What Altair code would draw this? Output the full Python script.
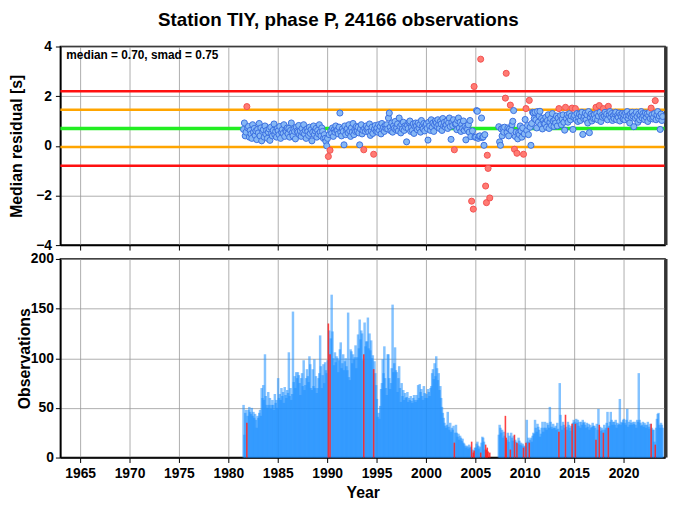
import altair as alt
import pandas as pd

TITLE = "Station TIY, phase P, 24166 observations"
MEDIAN = 0.70
SMAD = 0.75
X_TICKS = [1965, 1970, 1975, 1980, 1985, 1990, 1995, 2000, 2005, 2010, 2015, 2020]
X_DOMAIN = [1963.0, 2024.2]

# monthly median residuals [s] (Jan..Dec), None = no data
res_1981 = [None, None, None, None, None, None, 0.66, 0.92, 0.40, 0.55, 1.58, 0.72]
res_1982 = [0.78, 0.35, 0.62, 0.48, 0.30, 0.85, 0.55, 0.70, 0.42, 0.60, 0.25, 0.66]
res_1983 = [0.52, 0.90, 0.40, 0.72, 0.20, 0.58, 0.65, 0.35, 0.80, 0.48, 0.62, 0.30]
res_1984 = [0.55, 0.68, 0.22, 0.75, 0.50, 0.40, 0.62, 0.88, 0.45, 0.58, 0.35, 0.70]
res_1985 = [0.60, 0.45, 0.78, 0.30, 0.55, 0.65, 0.50, 0.85, 0.38, 0.62, 0.58, 0.72]
res_1986 = [0.48, 0.70, 0.35, 0.62, 0.92, 0.52, 0.40, 0.66, 0.58, 0.28, 0.75, 0.60]
res_1987 = [0.55, 0.82, 0.45, 0.60, 0.38, 0.70, 0.52, 0.85, 0.48, 0.62, 0.30, 0.68]
res_1988 = [0.58, 0.42, 0.75, 0.50, 0.65, 0.20, 0.55, 0.80, 0.45, 0.60, 0.70, 0.35]
res_1989 = [0.62, 0.48, 0.85, 0.55, 0.40, 0.72, 0.58, 0.30, 0.45, 0.30, 0.18, 0.00]
res_1990 = [0.30, -0.43, 0.45, -0.18, 0.60, 0.50, 0.72, 0.38, 0.65, 0.55, 0.80, 0.62]
res_1991 = [0.62, 0.48, 0.75, 1.32, 0.55, 0.40, 0.68, 0.58, 0.04, 0.80, 0.45, 0.65]
res_1992 = [0.70, 0.52, 0.85, 0.60, 0.38, 0.72, 0.55, 0.90, 0.45, 0.65, 0.58, 0.78]
res_1993 = [0.60, 0.75, 0.52, 0.04, 0.68, 0.85, 0.48, 0.62, -0.16, 0.70, 0.58, 0.80]
res_1994 = [0.65, 0.72, 0.55, 0.88, 0.42, 0.60, 0.75, 0.50, -0.34, 0.68, 0.82, 0.58]
res_1995 = [0.72, 0.55, 0.85, 0.62, 0.78, 0.48, 0.90, 0.66, 0.75, 0.58, 0.82, 0.70]
res_1996 = [0.85, 0.68, 1.12, 1.32, 0.75, 0.60, 0.92, 0.55, 0.80, 0.70, 0.98, 0.65]
res_1997 = [0.72, 0.88, 0.60, 1.12, 0.78, 0.52, 0.85, 0.68, 0.95, 0.62, 0.80, 0.74]
res_1998 = [0.16, 0.82, 0.70, 0.95, 1.00, 0.58, 0.75, 0.62, 0.88, 0.50, 0.78, 0.92]
res_1999 = [0.80, 0.65, 0.92, 0.72, 0.85, 0.55, 1.02, 0.78, 0.68, 0.90, 0.60, 0.82]
res_2000 = [0.88, 0.70, 0.23, 0.95, 0.80, 0.62, 1.05, 0.75, 0.92, 0.58, 0.85, 1.00]
res_2001 = [0.92, 0.78, 1.05, 0.85, 0.70, 0.98, 0.88, 0.62, 1.10, 0.80, 0.95, 0.75]
res_2002 = [0.85, 1.00, 0.70, 0.92, 1.12, 0.78, 0.26, 0.95, 0.82, 1.05, -0.16, 0.88]
res_2003 = [0.90, 0.65, 1.02, 1.12, 0.72, 0.95, 0.58, 0.85, 0.70, 1.00, 0.62, 0.78]
res_2004 = [0.24, 0.72, 0.66, 0.85, 0.55, 1.02, 0.37, -2.23, 0.60, -2.55, 2.39, 0.35]
res_2005 = [0.35, 1.42, 1.39, 0.30, 0.38, 0.40, 3.49, 1.12, 0.33, 0.36, 0.02, 0.45]
res_2006 = [-1.62, -2.29, -0.38, -0.91, None, -2.10, None, None, None, None, None, None]
res_2007 = [None, None, None, None, 0.77, 0.16, 0.02, 0.68, 0.40, 0.72, 0.55, 0.75]
res_2008 = [1.92, 2.92, 0.55, 0.72, 0.40, 0.68, 1.64, 0.62, 0.85, 0.99, 1.42, -0.14]
res_2009 = [0.38, 0.55, -0.30, 0.28, 0.52, 0.45, 0.80, 0.60, 0.35, 0.72, -0.34, 0.48]
res_2010 = [1.06, 1.50, 0.62, 0.82, 0.45, 1.83, 0.75, 0.02, 0.90, 1.35, 1.32, 1.10]
res_2011 = [1.35, 1.05, 0.72, 1.38, 0.95, 1.20, 1.39, 0.85, 1.10, 0.68, 1.02, 0.90]
res_2012 = [0.88, 1.15, 0.75, 1.02, 1.25, 0.70, 0.95, 1.10, 0.82, 1.30, 1.00, 0.78]
res_2013 = [1.05, 0.92, 1.20, 0.80, 1.12, 1.50, 0.98, 1.22, 0.85, 1.08, 1.25, 0.95]
res_2014 = [0.63, 1.55, 1.10, 1.25, 0.95, 1.18, 1.30, 1.05, 1.20, 1.52, 0.66, 1.15]
res_2015 = [1.22, 1.50, 1.05, 1.30, 0.98, 1.15, 1.28, 1.02, 1.20, 1.35, 0.46, 1.10]
res_2016 = [1.18, 1.32, 1.05, 1.25, 0.92, 1.38, 0.53, 1.15, 1.28, 1.00, 1.22, 1.10]
res_2017 = [1.25, 1.10, 1.55, 1.30, 1.05, 1.20, 1.62, 1.35, 0.98, 1.22, 1.15, 1.50]
res_2018 = [1.20, 1.35, 1.12, 1.28, 1.05, 1.59, 1.25, 1.38, 1.15, 1.30, 1.02, 1.22]
res_2019 = [1.10, 1.28, 1.35, 1.05, 1.22, 1.15, 1.32, 1.00, 1.25, 1.18, 1.30, 1.08]
res_2020 = [1.25, 1.05, 1.32, 1.18, 1.38, 1.10, 1.22, 0.92, 1.28, 1.15, 1.35, 1.20]
res_2021 = [0.77, 1.25, 1.10, 1.35, 1.18, 0.95, 1.28, 1.05, 1.22, 1.38, 1.12, 1.30]
res_2022 = [1.20, 1.05, 1.32, 1.15, 1.28, 0.98, 1.22, 1.35, 1.10, 1.52, 1.25, 1.08]
res_2023 = [1.15, 1.30, 1.82, 1.05, 1.25, 1.38, 1.10, 1.20, 0.66, 1.28, 1.02, 1.18]

# monthly number of observations (Jan..Dec), None = no data
cnt_1981 = [None, None, None, None, None, None, 53, 23, 45, 48, 35, 42]
cnt_1982 = [48, 51, 46, 44, 50, 42, 46, 40, 44, 38, 30, 42]
cnt_1983 = [40, 45, 48, 42, 70, 60, 73, 58, 104, 62, 53, 50]
cnt_1984 = [66, 53, 60, 49, 53, 58, 53, 48, 64, 55, 58, 50]
cnt_1985 = [80, 60, 64, 58, 70, 62, 66, 55, 71, 63, 60, 68]
cnt_1986 = [65, 106, 62, 70, 58, 64, 147, 76, 82, 70, 86, 80]
cnt_1987 = [86, 83, 75, 63, 80, 85, 72, 98, 68, 73, 80, 89]
cnt_1988 = [82, 76, 102, 94, 70, 68, 89, 72, 99, 70, 82, 65]
cnt_1989 = [70, 80, 85, 123, 92, 70, 83, 94, 75, 96, 88, 85]
cnt_1990 = [98, 135, 128, 104, 120, 164, 127, 100, 93, 106, 96, 102]
cnt_1991 = [100, 86, 98, 109, 116, 90, 95, 104, 88, 97, 100, 92]
cnt_1992 = [88, 146, 81, 78, 109, 107, 95, 104, 99, 101, 113, 90]
cnt_1993 = [101, 124, 110, 139, 119, 128, 125, 98, 104, 136, 112, 117]
cnt_1994 = [117, 141, 110, 125, 108, 118, 100, 103, 89, 97, 85, 73]
cnt_1995 = [59, 41, 45, 39, 52, 69, 75, 99, 85, 112, 80, 70]
cnt_1996 = [63, 104, 104, 80, 69, 75, 90, 154, 86, 95, 111, 88]
cnt_1997 = [86, 66, 80, 92, 70, 56, 75, 62, 68, 58, 65, 60]
cnt_1998 = [61, 66, 56, 60, 58, 62, 57, 55, 60, 63, 58, 56]
cnt_1999 = [63, 58, 73, 60, 74, 66, 69, 62, 58, 72, 65, 60]
cnt_2000 = [64, 60, 69, 66, 62, 70, 72, 85, 89, 79, 95, 82]
cnt_2001 = [102, 90, 78, 85, 68, 72, 60, 51, 45, 40, 35, 32]
cnt_2002 = [30, 33, 46, 31, 28, 35, 26, 30, 28, 32, 15, 25]
cnt_2003 = [33, 25, 21, 24, 18, 22, 20, 17, 19, 15, 14, 12]
cnt_2004 = [10, 12, 11, 9, 13, 10, 11, 16, 8, 5, 7, 10]
cnt_2005 = [10, 14, 16, 12, 9, 11, 5, 15, 21, 20, 16, 8]
cnt_2006 = [13, 8, 10, 6, None, 5, None, None, None, None, None, None]
cnt_2007 = [None, None, None, None, 23, 33, 30, 25, 28, 20, 26, 22]
cnt_2008 = [42, 20, 18, 25, 16, 22, 8, 25, 20, 17, 22, 23]
cnt_2009 = [18, 16, 15, 14, 20, 17, 13, 15, 12, 14, 10, 12]
cnt_2010 = [11, 15, 38, 16, 20, 15, 18, 20, 16, 22, 25, 24]
cnt_2011 = [38, 30, 26, 34, 31, 28, 21, 24, 30, 36, 26, 30]
cnt_2012 = [36, 30, 28, 35, 33, 30, 51, 36, 31, 29, 34, 30]
cnt_2013 = [30, 32, 28, 35, 29, 26, 75, 43, 32, 28, 36, 33]
cnt_2014 = [30, 43, 31, 28, 36, 33, 30, 27, 32, 34, 35, 38]
cnt_2015 = [36, 34, 39, 35, 38, 32, 36, 30, 36, 33, 38, 35]
cnt_2016 = [36, 33, 30, 35, 31, 34, 28, 33, 30, 31, 35, 32]
cnt_2017 = [32, 30, 18, 34, 28, 49, 33, 31, 27, 30, 28, 25]
cnt_2018 = [33, 28, 30, 35, 46, 30, 32, 36, 46, 38, 33, 36]
cnt_2019 = [36, 33, 38, 30, 35, 33, 34, 59, 33, 36, 35, 38]
cnt_2020 = [39, 35, 33, 38, 49, 31, 36, 33, 38, 35, 33, 36]
cnt_2021 = [34, 36, 33, 30, 38, 36, 85, 38, 35, 32, 33, 36]
cnt_2022 = [31, 35, 33, 30, 33, 36, 31, 29, 34, 34, 30, 28]
cnt_2023 = [28, 16, 13, 30, 39, 44, 45, 33, 30, 35, 33, 30]

YEARS = list(range(1981, 2024))
RES = [res_1981, res_1982, res_1983, res_1984, res_1985, res_1986, res_1987, res_1988,
       res_1989, res_1990, res_1991, res_1992, res_1993, res_1994, res_1995, res_1996,
       res_1997, res_1998, res_1999, res_2000, res_2001, res_2002, res_2003, res_2004,
       res_2005, res_2006, res_2007, res_2008, res_2009, res_2010, res_2011, res_2012,
       res_2013, res_2014, res_2015, res_2016, res_2017, res_2018, res_2019, res_2020,
       res_2021, res_2022, res_2023]
CNT = [cnt_1981, cnt_1982, cnt_1983, cnt_1984, cnt_1985, cnt_1986, cnt_1987, cnt_1988,
       cnt_1989, cnt_1990, cnt_1991, cnt_1992, cnt_1993, cnt_1994, cnt_1995, cnt_1996,
       cnt_1997, cnt_1998, cnt_1999, cnt_2000, cnt_2001, cnt_2002, cnt_2003, cnt_2004,
       cnt_2005, cnt_2006, cnt_2007, cnt_2008, cnt_2009, cnt_2010, cnt_2011, cnt_2012,
       cnt_2013, cnt_2014, cnt_2015, cnt_2016, cnt_2017, cnt_2018, cnt_2019, cnt_2020,
       cnt_2021, cnt_2022, cnt_2023]

rows = []
for y, rl, cl in zip(YEARS, RES, CNT):
    for m in range(12):
        if rl[m] is None and cl[m] is None:
            continue
        r = rl[m]
        out = r is not None and (r > MEDIAN + SMAD + 1e-9 or r < MEDIAN - SMAD - 1e-9)
        rows.append({"t": y + (m + 0.5) / 12.0, "res": r, "n": cl[m], "out": bool(out)})
df = pd.DataFrame(rows)

lines = pd.DataFrame({
    "v": [MEDIAN + 2 * SMAD, MEDIAN + SMAD, MEDIAN, MEDIAN - SMAD, MEDIAN - 2 * SMAD],
    "c": ["#ff1010", "#ffa500", "#22ee22", "#ffa500", "#ff1010"],
    "w": [2.5, 2.5, 3.5, 2.5, 2.5],
})

W, H = 612, 201
xscale = alt.Scale(domain=X_DOMAIN, nice=False, zero=False, padding=0)
yscale_top = alt.Scale(domain=[-4, 4], nice=False)
ytitle = "Median residual [s]"

rules = alt.Chart(lines).mark_rule().encode(
    y=alt.Y("v:Q", scale=yscale_top, title=ytitle),
    color=alt.Color("c:N", scale=None),
    strokeWidth=alt.StrokeWidth("w:Q", scale=None),
)

points = alt.Chart(df).transform_filter("isValid(datum.res)").mark_circle(
    size=38, opacity=1, strokeWidth=1
).encode(
    x=alt.X("t:Q", scale=xscale,
            axis=alt.Axis(values=X_TICKS, labels=False, title=None, grid=True, labelPadding=0)),
    y=alt.Y("res:Q", scale=yscale_top,
            axis=alt.Axis(values=[-4, -2, 0, 2, 4], title=ytitle, titlePadding=11, labelPadding=4)),
    fill=alt.condition("datum.out", alt.value("#ff7b73"), alt.value("#86b8f5")),
    stroke=alt.condition("datum.out", alt.value("#f25050"), alt.value("#3b6fe0")),
)

label = alt.Chart(pd.DataFrame({"label": [f"median = {MEDIAN:.2f}, smad = {SMAD:.2f}"]})).mark_text(
    align="left", baseline="middle", fontSize=12, fontWeight="bold", font="Liberation Sans", color="black"
).encode(x=alt.value(6), y=alt.value(9), text="label:N")

frame_top = alt.Chart(pd.DataFrame({"a": [0]})).mark_rule(color="#333333", strokeWidth=3).encode(
    x=alt.value(W + 1), y=alt.value(0), y2=alt.value(H)
)

top = alt.layer(rules, points, label, frame_top).properties(width=W, height=H)

xb = alt.X("t:Q", scale=xscale,
           axis=alt.Axis(values=X_TICKS, format="d", title="Year", grid=True, titlePadding=4))
yb = alt.Y("n:Q", scale=alt.Scale(domain=[0, 200], nice=False),
           axis=alt.Axis(values=[0, 50, 100, 150, 200], title="Observations",
                         titlePadding=-2, labelPadding=2))

bars_blue = alt.Chart(df).transform_filter("isValid(datum.n) && !datum.out").mark_bar(
    size=2.5, opacity=0.55, color="#1e90ff"
).encode(x=xb, y=yb)
bars_red = alt.Chart(df).transform_filter("isValid(datum.n) && datum.out").mark_bar(
    size=1.6, opacity=0.85, color="#ff2020"
).encode(x=xb, y=yb)
frame_bot = alt.Chart(pd.DataFrame({"a": [0]})).mark_rule(color="#333333", strokeWidth=3).encode(
    x=alt.value(W + 1), y=alt.value(0), y2=alt.value(H)
)
bottom = alt.layer(bars_blue, bars_red, frame_bot).properties(width=W, height=H)

chart = alt.vconcat(top, bottom, spacing=-2).properties(
    title=alt.TitleParams(TITLE, fontSize=19, font="Liberation Sans", fontWeight="bold",
                          anchor="middle", offset=9, color="black"),
    padding={"left": 0, "top": 0, "right": 0, "bottom": -3},
).configure_axis(
    labelFont="Liberation Sans", labelFontSize=14, labelFontWeight="bold", labelColor="black",
    titleFont="Liberation Sans", titleFontSize=16, titleFontWeight="bold", titleColor="black",
    domainColor="black", domainWidth=1.5, tickColor="black", tickSize=5, tickWidth=1,
    gridColor="#9a9a9a", gridWidth=0.8, labelPadding=4,
).configure_view(stroke="black", strokeWidth=1.5)

chart.save("out.html", embed_options={"renderer": "svg", "actions": False})
